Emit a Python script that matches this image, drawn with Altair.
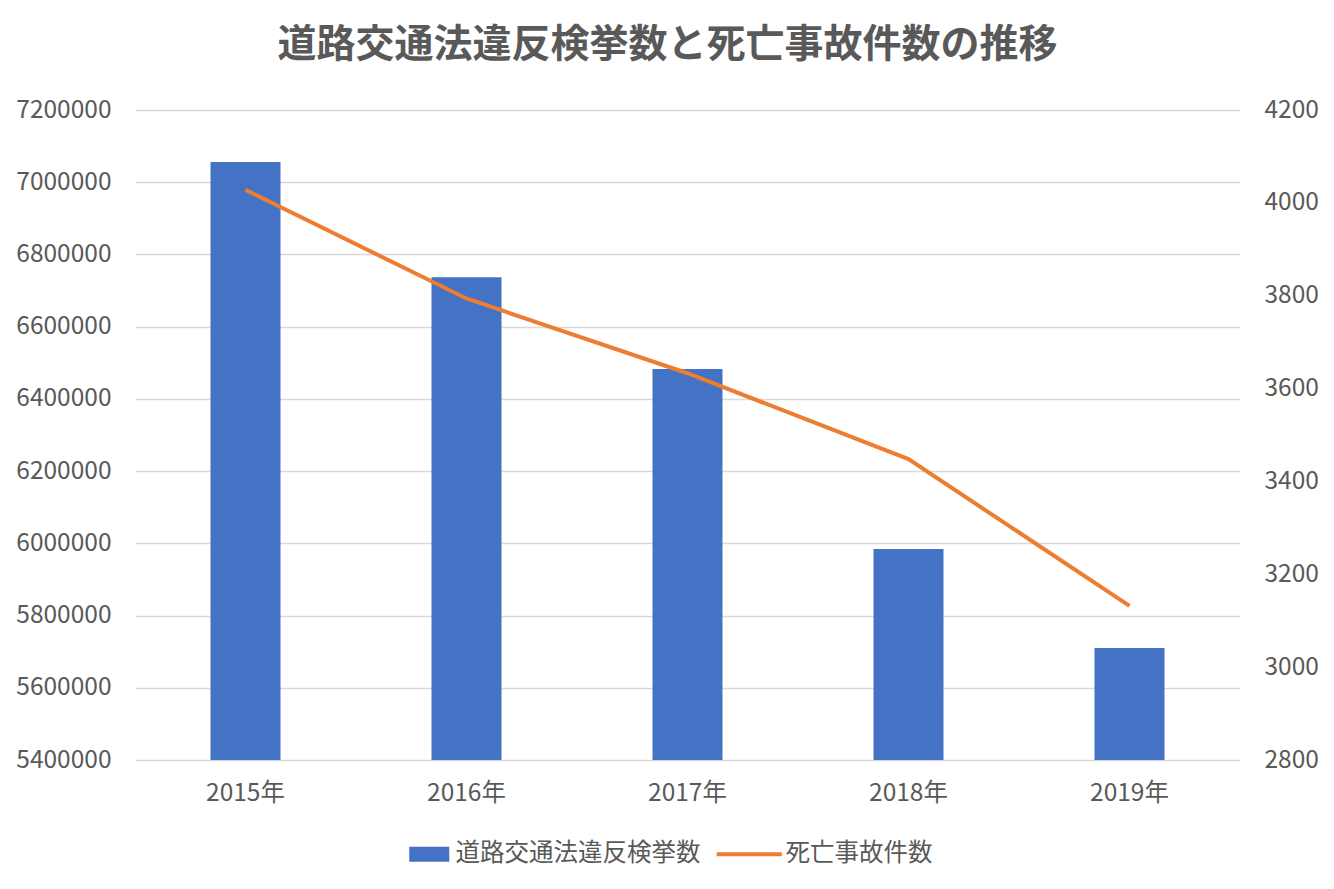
import altair as alt
import pandas as pd

years = ["2015年", "2016年", "2017年", "2018年", "2019年"]
violations = [7056000, 6737000, 6483000, 5984000, 5710000]
fatal = [4028, 3794, 3633, 3448, 3132]
bar_name = "道路交通法違反検挙数"
line_name = "死亡事故件数"
left_ticks = [5400000, 5600000, 5800000, 6000000, 6200000, 6400000, 6600000, 6800000, 7000000, 7200000]
right_ticks = [2800, 3000, 3200, 3400, 3600, 3800, 4000, 4200]
left_base = 5400000

df = pd.DataFrame({
    "year": years,
    "violations": violations,
    "fatal": fatal,
    "s1": [bar_name] * len(years),
    "s2": [line_name] * len(years),
})

FONT = "Noto Sans CJK JP"
TXT = "#595959"
AX = 24.5
LG = 24.5

x = alt.X("year:N", sort=years, title=None,
          scale=alt.Scale(paddingInner=0.68, paddingOuter=0.34),
          axis=alt.Axis(labelAngle=0, ticks=False, domain=False, labelPadding=21,
                        labelFontSize=AX, labelColor=TXT, labelFont=FONT))

bars = alt.Chart(df).mark_bar(size=70).encode(
    x=x,
    y=alt.Y("violations:Q", title=None,
            scale=alt.Scale(domain=[5400000, 7200000], zero=False, nice=False),
            axis=alt.Axis(values=left_ticks, format="d", ticks=False, domain=False,
                          labelPadding=24, labelFontSize=AX, labelColor=TXT, labelFont=FONT,
                          grid=True, gridColor="#D9D9D9", gridWidth=1.5)),
    y2=alt.Y2(datum=left_base),
    fill=alt.Fill("s1:N", scale=alt.Scale(range=["#4472C4"]),
                  legend=alt.Legend(title=None, orient="none", legendX=282, legendY=732,
                                    symbolType="M-2,-0.75H2V0.75H-2Z", symbolSize=400,
                                    symbolStrokeWidth=0, labelOffset=14, padding=0,
                                    labelLimit=500,
                                    labelFontSize=LG, labelColor=TXT, labelFont=FONT)),
)

line = alt.Chart(df).mark_line(strokeWidth=4).encode(
    x=x,
    y=alt.Y("fatal:Q", title=None,
            scale=alt.Scale(domain=[2800, 4200], zero=False, nice=False),
            axis=alt.Axis(orient="right", values=right_ticks, format="d", ticks=False, domain=False,
                          grid=False, labelPadding=24, labelFontSize=AX, labelColor=TXT,
                          labelFont=FONT)),
    stroke=alt.Stroke("s2:N", scale=alt.Scale(range=["#ED7D31"]),
                      legend=alt.Legend(title=None, orient="none", legendX=602, legendY=732,
                                        symbolType="M-3.25,0H3.25", symbolSize=400,
                                        symbolStrokeWidth=4, labelOffset=24, padding=0,
                                        labelLimit=500,
                                        labelFontSize=LG, labelColor=TXT, labelFont=FONT)),
)

chart = alt.layer(bars, line).resolve_scale(y="independent", fill="independent", stroke="independent").properties(
    width=1105, height=650,
    autosize=alt.AutoSizeParams(type="none"),
    padding={"left": 127, "top": 102, "right": 86, "bottom": 110},
    title=alt.Title("道路交通法違反検挙数と死亡事故件数の推移", fontSize=39, fontWeight="bold",
                    color=TXT, font=FONT, anchor="middle", dx=-20, offset=32),
).configure_view(stroke=None)

chart.save("out.html", embed_options={"renderer": "svg", "actions": False})
